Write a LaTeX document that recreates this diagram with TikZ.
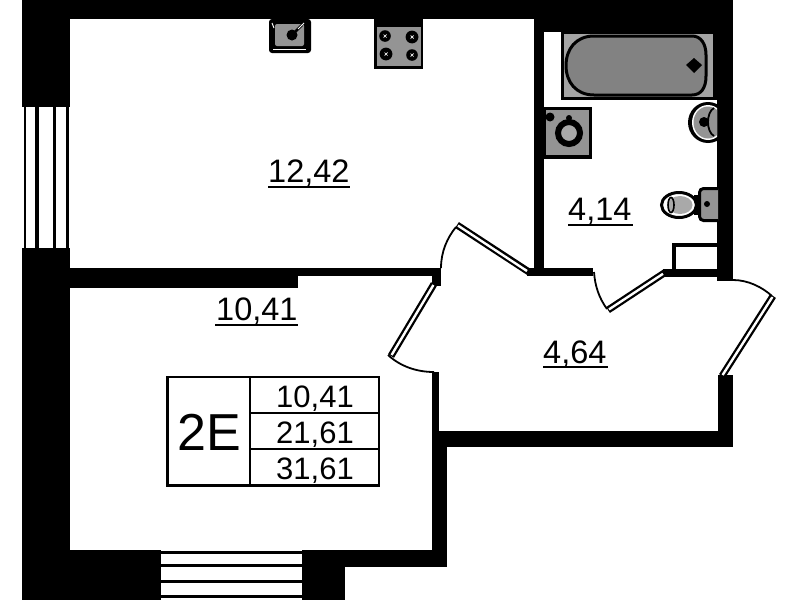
\documentclass[tikz,border=0pt]{standalone}
\usepackage{fontspec}
\setmainfont{Liberation Sans}
\definecolor{fixgray}{gray}{0.58}
\tikzset{
  winout/.style={line width=7pt,black},
  winin/.style={line width=2.4pt,white},
  swing/.style={line width=1.8pt,black},
  gline/.style={line width=2.2pt,black},
  lbl/.style={anchor=base west,inner sep=0pt,font=\fontsize{32.5}{34}\selectfont},
  tbl/.style={anchor=base east,inner sep=0pt,font=\fontsize{31}{33}\selectfont},
  ul/.style={line width=2pt,black}
}
\begin{document}
\begin{tikzpicture}[x=1pt,y=-1pt]
\useasboundingbox[fill=white] (0,0) rectangle (799,600);
% walls
\fill[black] (22,0) rectangle (534,19);
\fill[black] (534,0) rectangle (733,32);
\fill[black] (22,0) rectangle (70,107);
\fill[black] (22,248) rectangle (70,600);
\fill[black] (70,268) rectangle (441,276);
\fill[black] (70,268) rectangle (298,288);
\fill[black] (432,268) rectangle (441,286);
\fill[black] (534,19) rectangle (544,276);
\fill[black] (527,268) rectangle (593,276);
\fill[black] (663,269) rectangle (733,277);
\fill[black] (717,0) rectangle (733,281);
\fill[black] (718,375) rectangle (733,447);
\fill[black] (432,372) rectangle (439,447);
\fill[black] (432,431) rectangle (733,447);
\fill[black] (432,440) rectangle (447,567);
\fill[black] (22,550) rectangle (161,600);
\fill[black] (302,550) rectangle (447,567);
\fill[black] (302,550) rectangle (345,600);
% left window
\foreach \a/\b in {23.5/26,35/38.5,52.7/56,65.7/68.5}{\fill[black] (\a,107) rectangle (\b,248);}
% bottom window
\foreach \a/\b in {551/553.5,564/567,580/583,595/597.5}{\fill[black] (161,\a) rectangle (302,\b);}
% door leaves and swings
\draw[winout] (457,225) -- (529,272);
\draw[winin]  (458,225.6) -- (527,271);
\draw[swing] (441,268) .. controls (441,252) and (447,238) .. (456,227);
\draw[winout] (608,310) -- (665,272.5);
\draw[winin]  (609,309.4) -- (663,273.8);
\draw[swing] (594,272) .. controls (595,286) and (599,298) .. (607,309);
\draw[winout] (434,284) -- (391,356);
\draw[winin]  (433.4,285) -- (391.6,355);
\draw[swing] (388,355) .. controls (400,366) and (416,372) .. (434,372);
\draw[winout] (722,376) -- (773,296);
\draw[winin]  (722.6,375) -- (772.4,297);
\draw[swing] (733,280) .. controls (748,280) and (762,287) .. (772,296);
% utility box
\draw[line width=4pt] (717,245) -- (674,245) -- (674,270);
% sink
\fill[black,rounded corners=3pt] (269,19) rectangle (311,53);
\fill[fixgray,rounded corners=2pt] (275,24) rectangle (304,46);
\fill[black] (292,35) circle (5.5);
\draw[line width=2.5pt,black] (293,34) -- (302,25);
\draw[white,line width=1pt] (298,29) -- (304,23);
\draw[white,line width=1pt] (272,23) -- (274,28);
\draw[white,line width=0.8pt] (273,49) -- (306,49);
% hob
\fill[black] (374,19) rectangle (423,69);
\fill[fixgray] (377,27) rectangle (421,66);
\foreach \cx/\cy/\r in {385/36/5.8,412/37/6.4,386/54/6.4,412/55/5.8}{
  \fill[black] (\cx,\cy) circle (\r);
  \draw[white,line width=0.7pt] (\cx-1.5,\cy-1.5) -- (\cx+1.5,\cy+1.5) (\cx-1.5,\cy+1.5) -- (\cx+1.5,\cy-1.5);
}
% bath
\fill[black] (561,32) rectangle (717,100);
\fill[fixgray!85!white] (563.5,34) rectangle (713,97);
\draw[line width=3pt,black,fill=fixgray!88!black]
  (594,36) -- (692,36) .. controls (701,36) and (706,44) .. (706,55) -- (706,76)
  .. controls (706,88) and (701,95) .. (692,95) -- (594,95)
  .. controls (576,95) and (566,82) .. (566,65.5)
  .. controls (566,49) and (576,36) .. (594,36) -- cycle;
\fill[black] (694,58) -- (702,65) -- (694,73) -- (686,65) -- cycle;
% washbasin
\begin{scope}
\clip (680,98) rectangle (717,148);
\fill[black] (708,122.5) ellipse (20 and 20.5);
\fill[white] (708,122.5) ellipse (16 and 17.5);
\fill[fixgray] (708,122.5) ellipse (14.5 and 16);
\fill[black] (704,122) circle (5);
\draw[black,line width=1.8pt] (714,108) .. controls (706,112) and (706,132) .. (714,136);
\end{scope}
% washing machine
\fill[black] (544,107) rectangle (592,159);
\fill[fixgray] (546,109.5) rectangle (589,155);
\fill[black] (550,117) circle (4.5);
\fill[black] (569,118) circle (3);
\draw[line width=6pt,black] (569,133) circle (11);
\fill[fixgray!80!white] (569,133) circle (7.5);
% toilet
\fill[black] (694,195) rectangle (700,215);
\draw[line width=3pt,black,fill=fixgray,rounded corners=4pt] (718,188.5) -- (699.5,188.5) -- (699.5,220.5) -- (718,220.5);
\fill[black] (707,204) circle (3);
\draw[line width=3pt,black,fill=white] (679,205) ellipse (17.5 and 12.5);
\fill[fixgray!80!white] (680,205) ellipse (12.5 and 9);
\draw[line width=1.6pt,black] (671,205) ellipse (3 and 7.5);
% labels
\node[lbl] (a1) at (268,182.7) {12,42};
\draw[ul] (268,186.5) -- (350,186.5);
\node[lbl] (a2) at (216,320.5) {10,41};
\draw[ul] (215,325) -- (298,325);
\node[lbl] (a3) at (568,220) {4,14};
\draw[ul] (568,224.5) -- (633,224.5);
\node[lbl] (a4) at (543,363) {4,64};
\draw[ul] (543,366.5) -- (608,366.5);
% table
\draw[gline] (167.5,377) rectangle (379,485.5);
\draw[gline] (250,377) -- (250,485.5);
\draw[gline] (250,412.7) -- (379,412.7);
\draw[gline] (250,449) -- (379,449);
\node[anchor=base west,inner sep=0pt,font=\fontsize{52}{54}\selectfont] (t0) at (177,450) {2E};
\node[tbl] (t1) at (354,407.5) {10,41};
\node[tbl] (t2) at (354,443.5) {21,61};
\node[tbl] (t3) at (354,479) {31,61};
\end{tikzpicture}
\end{document}
